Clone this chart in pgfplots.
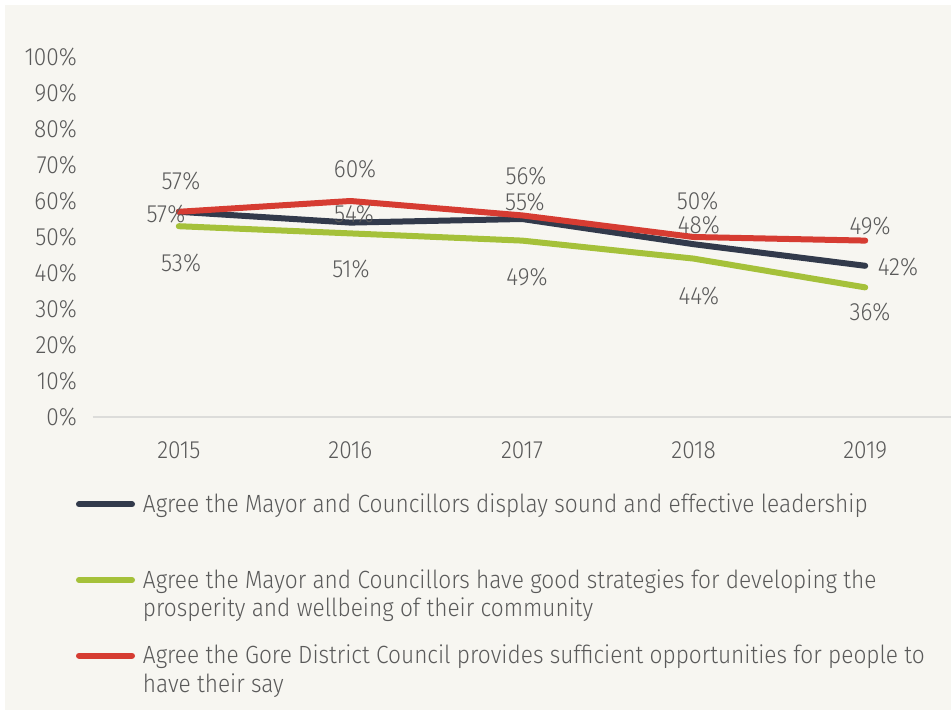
\documentclass[border=0pt]{standalone}
\usepackage{pgfplots}
\pgfplotsset{compat=1.18}
\usepackage{fontspec}
\setmainfont{Fira Sans}[UprightFont=* Light, FakeStretch=0.91]
\definecolor{bg}{RGB}{247,246,241}
\definecolor{navy}{RGB}{50,58,75}
\definecolor{lgreen}{RGB}{165,193,58}
\definecolor{lred}{RGB}{214,60,50}
\definecolor{txt}{RGB}{90,90,90}
\definecolor{baseln}{RGB}{220,220,218}
\newcommand{\chartfont}{\fontsize{25}{29}\selectfont}
\begin{document}
\begin{tikzpicture}[x=1bp,y=1bp]
\useasboundingbox (-93,-297) rectangle (858,417);
\fill[white] (-93,-297) rectangle (858,417);
\fill[bg] (-88,-293) rectangle (858,412);
\begin{axis}[
  at={(0,0)}, anchor=south west,
  scale only axis, width=858bp, height=360bp,
  xmin=-0.5, xmax=4.5, ymin=0, ymax=100,
  xtick={0,1,2,3,4}, xticklabels={2015,2016,2017,2018,2019},
  ytick={0,10,...,100},
  yticklabel={\pgfmathprintnumber{\tick}\%},
  axis x line*=bottom, axis y line*=left,
  y axis line style={draw=none},
  x axis line style={draw=baseln, line width=2bp, -},
  major tick length=0pt,
  tick label style={font=\chartfont, text=txt, inner sep=0pt},
  /pgf/number format/assume math mode=true,
  yticklabel style={xshift=-16bp},
  xticklabel style={yshift=-24bp},
  clip=false,
  legend style={at={(-0.0198,-0.2035)}, anchor=north west, draw=none, fill=none,
    inner sep=0pt, outer sep=0pt, font=\chartfont, text=txt,
    row sep=21bp, column sep=6bp,
    cells={anchor=base west, align=left, inner sep=0pt}},
  legend image code/.code={\draw[#1, line width=6bp, line cap=round] (0bp,37bp) -- (53bp,37bp);},
  every node near coord/.append style={anchor=center, inner sep=0pt, font=\chartfont, text=txt},
]
\addplot[navy, line width=6bp, line join=round, line cap=round] coordinates {(0,57) (1,54) (2,55) (3,48) (4,42)};
\addlegendentry{\strut Agree the Mayor and Councillors display sound and effective leadership\\\strut}
\addplot[lgreen, line width=6bp, line join=round, line cap=round] coordinates {(0,53) (1,51) (2,49) (3,44) (4,36)};
\addlegendentry{\strut Agree the Mayor and Councillors have good strategies for developing the\\\strut prosperity and wellbeing of their community}
\addplot[lred, line width=6bp, line join=round, line cap=round] coordinates {(0,57) (1,60) (2,56) (3,50) (4,49)};
\addlegendentry{\strut Agree the Gore District Council provides sufficient opportunities for people to\\\strut have their say}
% data labels
\addplot[draw=none, mark=none, forget plot, nodes near coords, point meta=explicit symbolic]
  coordinates {(-0.075,56.25) [57\%] (1.021,56.4) [54\%] (2.017,59.6) [55\%] (3.031,53.3) [48\%] (4.191,41.7) [42\%]};
\addplot[draw=none, mark=none, forget plot, nodes near coords, point meta=explicit symbolic]
  coordinates {(0.013,42.9) [53\%] (1.003,41.1) [51\%] (2.029,38.9) [49\%] (3.031,33.6) [44\%] (4.028,29.2) [36\%]};
\addplot[draw=none, mark=none, forget plot, nodes near coords, point meta=explicit symbolic]
  coordinates {(0.013,65.6) [57\%] (1.027,69.0) [60\%] (2.023,66.9) [56\%] (3.023,60.0) [50\%] (4.028,53.1) [49\%]};
\end{axis}
\end{tikzpicture}
\end{document}
